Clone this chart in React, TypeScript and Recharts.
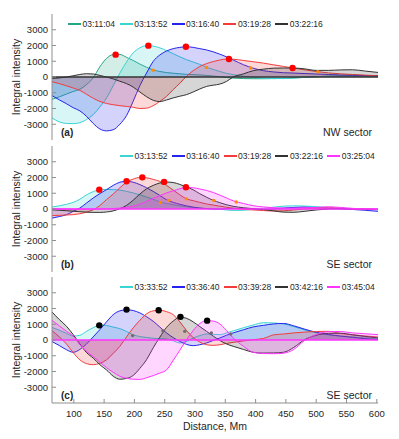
import React from 'react';
import { ComposedChart, Area, Scatter, XAxis, YAxis, ReferenceLine, Legend, Label } from 'recharts';

// ---------- data ----------
const distance = [64, 76, 88, 99, 110, 121, 132, 143, 154, 165, 176, 187, 198, 209, 220, 231, 242, 253, 264, 275, 286, 297, 308, 319, 330, 341, 352, 363, 380, 396, 413, 430, 446, 463, 480, 500, 520, 540, 560, 580, 602];

const xTicks = [100, 150, 200, 250, 300, 350, 400, 450, 500, 550, 600];
const yTicks = [-3000, -2000, -1000, 0, 1000, 2000, 3000];

// Panel (a) NW sector
const timesA = ['03:11:04', '03:13:52', '03:16:40', '03:19:28', '03:22:16'];
const a1 = [-1420, -1260, -1080, -920, -780, -480, -50, 650, 1180, 1420, 1430, 1250, 1050, 820, 620, 450, 350, 280, 240, 200, 170, 150, 130, 100, 60, 20, -30, -70, -100, -110, -110, -100, -90, -60, -20, 20, 50, 80, 90, 80, 60];
const a2 = [-2600, -2850, -2950, -2960, -2900, -2700, -2390, -1900, -1330, -550, 250, 950, 1530, 1850, 1990, 1960, 1850, 1680, 1480, 1280, 1100, 950, 800, 620, 480, 350, 230, 150, 50, -30, -80, -100, -100, -70, -30, 20, 50, 60, 60, 50, 40];
const a3 = [-1180, -1450, -1700, -1950, -2150, -2500, -2950, -3300, -3420, -3350, -3000, -2450, -1540, -550, 250, 990, 1400, 1650, 1800, 1880, 1920, 1880, 1800, 1720, 1600, 1450, 1280, 1080, 780, 560, 400, 320, 270, 250, 220, 190, 160, 130, 110, 90, 80];
const a4 = [-300, -420, -560, -700, -850, -1100, -1350, -1550, -1680, -1760, -1820, -1870, -1920, -2000, -1980, -1820, -1550, -1230, -800, -400, 50, 400, 670, 850, 980, 1080, 1140, 1130, 1050, 970, 880, 770, 670, 560, 460, 350, 260, 200, 160, 120, 80];
const a5 = [-90, -60, 0, 80, 160, 210, 190, 100, 0, -120, -270, -420, -640, -950, -1250, -1480, -1560, -1460, -1330, -1220, -1120, -950, -760, -600, -520, -450, -280, 0, 200, 400, 500, 560, 570, 570, 520, 420, 420, 450, 460, 380, 290];
const peakAX = [169, 223, 285, 356, 461];
const peakAY = [1420, 1990, 1920, 1140, 570];
const markAX = [231, 319, 392, 503];
const markAY = [430, 600, 570, 340];

// Panel (b) SE sector
const timesB = ['03:13:52', '03:16:40', '03:19:28', '03:22:16', '03:25:04'];
const b1 = [130, 200, 300, 420, 620, 900, 1100, 1230, 1240, 1230, 1200, 1120, 1020, 900, 760, 620, 450, 350, 270, 200, 140, 90, 60, 30, 10, -20, -60, -90, -80, -20, 40, 120, 180, 200, 190, 150, 80, 30, 0, -20, -20];
const b2 = [-580, -480, -360, -150, 60, 380, 700, 980, 1230, 1500, 1700, 1760, 1700, 1550, 1350, 1120, 860, 590, 420, 300, 200, 120, 60, 20, 0, 0, 20, 40, 30, 0, -30, 0, 60, 100, 120, 80, 30, 0, -30, -80, -150];
const b3 = [-420, -400, -380, -360, -300, -200, -50, 220, 600, 950, 1350, 1700, 1900, 2000, 1980, 1880, 1750, 1500, 1200, 900, 640, 530, 420, 320, 250, 180, 110, 50, -20, -60, -100, -130, -120, -60, 0, 60, 80, 50, 0, -20, -30];
const b4 = [-50, -80, -110, -140, -170, -200, -215, -215, -190, -120, 20, 230, 560, 950, 1280, 1500, 1650, 1710, 1680, 1560, 1400, 1220, 970, 750, 550, 400, 270, 170, 80, 20, -40, -120, -200, -210, -150, -60, 0, 30, 20, 0, -20];
const b5 = [30, 10, 0, 0, 0, 0, 0, 0, 10, 30, 60, 110, 180, 300, 480, 680, 850, 1020, 1150, 1290, 1370, 1350, 1270, 1180, 1050, 880, 700, 520, 350, 210, 130, 80, 60, 60, 80, 100, 140, 100, 40, 0, -20];
const peakBX = [142, 187, 213, 249, 285];
const peakBY = [1230, 1760, 2010, 1720, 1380];
const markBX = [243, 257, 286, 331, 368];
const markBY = [420, 550, 640, 540, 440];

// Panel (c) SE sector
const timesC = ['03:33:52', '03:36:40', '03:39:28', '03:42:16', '03:45:04'];
const c1 = [800, 620, 420, 250, 300, 550, 780, 950, 920, 820, 720, 540, 330, 220, 160, 110, 80, 60, -50, -190, -100, 130, 280, 380, 360, 340, 450, 580, 780, 950, 1100, 1080, 1020, 850, 650, 460, 320, 250, 200, 140, 80];
const c2 = [-100, -350, -620, -780, -600, -250, 200, 660, 1150, 1610, 1850, 1920, 1870, 1720, 1480, 1190, 820, 450, 150, -90, -280, -360, -300, -190, -30, 130, 300, 450, 650, 830, 930, 1020, 1050, 900, 700, 490, 350, 250, 170, 90, 20];
const c3 = [600, 200, -260, -800, -1260, -1500, -1570, -1480, -1260, -850, -400, 200, 770, 1250, 1660, 1850, 1890, 1800, 1610, 1150, 600, 150, -130, -300, -340, -300, -220, -150, -60, 20, 100, 330, 380, 450, 500, 540, 550, 420, 330, 260, 190];
const c4 = [1780, 1300, 870, 340, -250, -800, -1150, -1570, -1900, -2300, -2490, -2440, -2250, -1800, -1250, -500, 180, 800, 1200, 1450, 1380, 1150, 850, 550, 250, -30, -250, -400, -600, -780, -830, -820, -780, -470, 0, 300, 420, 430, 330, 230, 130];
const c5 = [1250, 900, 550, 250, -300, -720, -1050, -1400, -1750, -2050, -2300, -2430, -2490, -2500, -2400, -2260, -2100, -1900, -1300, -650, 20, 600, 1050, 1230, 1200, 1020, 600, 130, -400, -780, -860, -870, -840, -600, -50, 340, 530, 540, 450, 400, 340];
const peakCX = [142, 187, 240, 276, 320];
const peakCY = [930, 1930, 1890, 1470, 1230];
const markCX = [197, 247, 283, 327, 359];
const markCY = [280, 590, 550, 450, 380];

// ---------- styles ----------
const GREEN = '#25a486';
const CYAN = '#3ad4d4';
const BLUE = '#2424ee';
const RED = '#f23c3c';
const BLACK = '#333333';
const MAGENTA = '#ff33ff';
const FONT = "'Liberation Sans', Arial, Helvetica, sans-serif";
const AXIS = '#8f8f8f';
const TXT = '#262626';
const W = 399;
const PLOT_H = 126;

type Series = { name: string; color: string; values: number[] };

const buildRows = (series: Series[]) =>
  distance.map((x, i) => {
    const r: any = { x };
    series.forEach((s, j) => {
      r['s' + j] = s.values[i];
    });
    return r;
  });

const buildPts = (xs: number[], ys: number[]) => xs.map((x, i) => ({ x, y: ys[i] }));

type PanelProps = {
  top: number;
  marginTop: number;
  bottomAxisH: number;
  showXLabels: boolean;
  series: Series[];
  peaks: { x: number; y: number }[];
  peakColor: string;
  marks: { x: number; y: number }[];
  markColor: string;
  zeroColor: string;
  tag: string;
  sector: string;
  legendLeft: number;
  legendTop: number;
};

function Panel(p: PanelProps) {
  const rows = buildRows(p.series);
  const plotTop = p.marginTop;
  const plotBottom = p.marginTop + PLOT_H;
  const height = p.marginTop + PLOT_H + p.bottomAxisH + (p.bottomAxisH > 0 ? 0 : 2);

  const bottomTick = (t: any) => (
    <g>
      <line x1={t.x} x2={t.x} y1={t.y} y2={t.y - 4} stroke={AXIS} />
      {p.showXLabels ? (
        <text x={t.x} y={t.y + 13.5} textAnchor="middle" fontSize={9.5} fill={TXT} fontFamily={FONT}>
          {t.payload.value}
        </text>
      ) : null}
    </g>
  );
  const topTick = (t: any) => <line x1={t.x} x2={t.x} y1={t.y} y2={t.y + 4} stroke={AXIS} />;
  const leftTick = (t: any) => (
    <g>
      <line x1={t.x} x2={t.x + 4} y1={t.y} y2={t.y} stroke={AXIS} />
      <text x={t.x - 4} y={t.y} dy="0.35em" textAnchor="end" fontSize={9.5} fill={TXT} fontFamily={FONT}>
        {t.payload.value}
      </text>
    </g>
  );
  const rightTick = (t: any) => <line x1={t.x} x2={t.x - 4} y1={t.y} y2={t.y} stroke={AXIS} />;

  const texts = () => (
    <g fontFamily={FONT}>
      <text
        transform={`translate(19.5, ${plotTop + PLOT_H / 2}) rotate(-90)`}
        textAnchor="middle"
        fontSize={10.5}
        fill={TXT}
      >
        Integral intensity
      </text>
      <text x={61} y={plotBottom - 4.5} fontSize={10} fontWeight="bold" fill={TXT}>
        {p.tag}
      </text>
      <text x={372} y={plotBottom - 4.5} textAnchor="end" fontSize={10.5} fill={TXT}>
        {p.sector}
      </text>
      {p.showXLabels ? (
        <text x={215} y={plotBottom + 27} textAnchor="middle" fontSize={10.5} fill={TXT}>
          Distance, Mm
        </text>
      ) : null}
    </g>
  );

  const legendContent = () => (
    <div
      style={{
        display: 'flex',
        flexWrap: 'nowrap',
        alignItems: 'center',
        width: 5 * 51.8,
        height: 10,
        fontFamily: FONT,
        fontSize: 8.5,
        color: TXT,
        whiteSpace: 'nowrap',
      }}
    >
      {p.series.map((s) => (
        <div key={s.name} style={{ display: 'flex', alignItems: 'center', width: 51.8, flexShrink: 0 }}>
          <div style={{ width: 13, minWidth: 13, height: 1.8, background: s.color, marginRight: 1.5, flexShrink: 0 }} />
          <span style={{ lineHeight: '10px', flexShrink: 0 }}>{s.name}</span>
        </div>
      ))}
    </div>
  );

  return (
    <div style={{ position: 'absolute', left: 0, top: p.top, width: W, height }}>
      <ComposedChart
        width={W}
        height={height}
        data={rows}
        margin={{ top: p.marginTop, right: 21, bottom: p.bottomAxisH > 0 ? 0 : 2, left: 0 }}
      >
        <XAxis
          dataKey="x"
          type="number"
          domain={[64, 602]}
          ticks={xTicks}
          interval={0}
          allowDataOverflow
          height={p.bottomAxisH}
          tickSize={0}
          tickMargin={0}
          tickLine={false}
          axisLine={{ stroke: AXIS }}
          tick={bottomTick}
        />
        <XAxis
          xAxisId="top"
          orientation="top"
          dataKey="x"
          type="number"
          domain={[64, 602]}
          ticks={xTicks}
          interval={0}
          allowDataOverflow
          height={0}
          tickSize={0}
          tickMargin={0}
          tickLine={false}
          axisLine={{ stroke: AXIS }}
          tick={topTick}
        />
        <YAxis
          type="number"
          domain={[-4000, 4000]}
          ticks={yTicks}
          interval={0}
          allowDataOverflow
          width={52}
          tickSize={0}
          tickMargin={0}
          tickLine={false}
          axisLine={{ stroke: AXIS }}
          tick={leftTick}
        >
          <Label content={texts} />
        </YAxis>
        <YAxis
          yAxisId="right"
          orientation="right"
          type="number"
          domain={[-4000, 4000]}
          ticks={yTicks}
          interval={0}
          allowDataOverflow
          width={0}
          tickSize={0}
          tickMargin={0}
          tickLine={false}
          axisLine={{ stroke: AXIS }}
          tick={rightTick}
        />
        <Legend
          layout="vertical"
          align="center"
          verticalAlign="middle"
          wrapperStyle={{ top: p.legendTop, left: p.legendLeft, width: 5 * 51.8, height: 10 }}
          content={legendContent}
        />
        {p.series.map((s, j) => (
          <Area
            key={s.name}
            name={s.name}
            dataKey={'s' + j}
            type="monotone"
            baseValue={0}
            stroke={s.color}
            strokeWidth={1}
            fill={s.color}
            fillOpacity={0.2}
            dot={false}
            activeDot={false}
            isAnimationActive={false}
          />
        ))}
        <ReferenceLine y={0} stroke={p.zeroColor} strokeWidth={1.3} />
        <Scatter
          data={p.marks}
          dataKey="y"
          legendType="none"
          isAnimationActive={false}
          shape={(d: any) => <circle cx={d.cx} cy={d.cy} r={1.7} fill={p.markColor} />}
        />
        <Scatter
          data={p.peaks}
          dataKey="y"
          legendType="none"
          isAnimationActive={false}
          shape={(d: any) => <circle cx={d.cx} cy={d.cy} r={3.2} fill={p.peakColor} />}
        />
      </ComposedChart>
    </div>
  );
}

const seriesA: Series[] = [
  { name: timesA[0], color: GREEN, values: a1 },
  { name: timesA[1], color: CYAN, values: a2 },
  { name: timesA[2], color: BLUE, values: a3 },
  { name: timesA[3], color: RED, values: a4 },
  { name: timesA[4], color: BLACK, values: a5 },
];
const seriesB: Series[] = [
  { name: timesB[0], color: CYAN, values: b1 },
  { name: timesB[1], color: BLUE, values: b2 },
  { name: timesB[2], color: RED, values: b3 },
  { name: timesB[3], color: BLACK, values: b4 },
  { name: timesB[4], color: MAGENTA, values: b5 },
];
const seriesC: Series[] = [
  { name: timesC[0], color: CYAN, values: c1 },
  { name: timesC[1], color: BLUE, values: c2 },
  { name: timesC[2], color: RED, values: c3 },
  { name: timesC[3], color: BLACK, values: c4 },
  { name: timesC[4], color: MAGENTA, values: c5 },
];

export default function App() {
  return (
    <div style={{ position: 'absolute', left: 0, top: 0, width: W, height: 439, background: '#fff', fontFamily: FONT }}>
      <Panel
        top={0}
        marginTop={14}
        bottomAxisH={0}
        showXLabels={false}
        series={seriesA}
        peaks={buildPts(peakAX, peakAY)}
        peakColor="#ff0000"
        marks={buildPts(markAX, markAY)}
        markColor="#ff8c00"
        zeroColor={BLACK}
        tag="(a)"
        sector="NW sector"
        legendLeft={68}
        legendTop={19}
      />
      <Panel
        top={142}
        marginTop={4}
        bottomAxisH={0}
        showXLabels={false}
        series={seriesB}
        peaks={buildPts(peakBX, peakBY)}
        peakColor="#ff0000"
        marks={buildPts(markBX, markBY)}
        markColor="#ff8c00"
        zeroColor={MAGENTA}
        tag="(b)"
        sector="SE sector"
        legendLeft={120}
        legendTop={8.7}
      />
      <Panel
        top={273}
        marginTop={4}
        bottomAxisH={36}
        showXLabels={true}
        series={seriesC}
        peaks={buildPts(peakCX, peakCY)}
        peakColor="#000000"
        marks={buildPts(markCX, markCY)}
        markColor="#6e6e6e"
        zeroColor={MAGENTA}
        tag="(c)"
        sector="SE sector"
        legendLeft={120}
        legendTop={8.7}
      />
    </div>
  );
}
